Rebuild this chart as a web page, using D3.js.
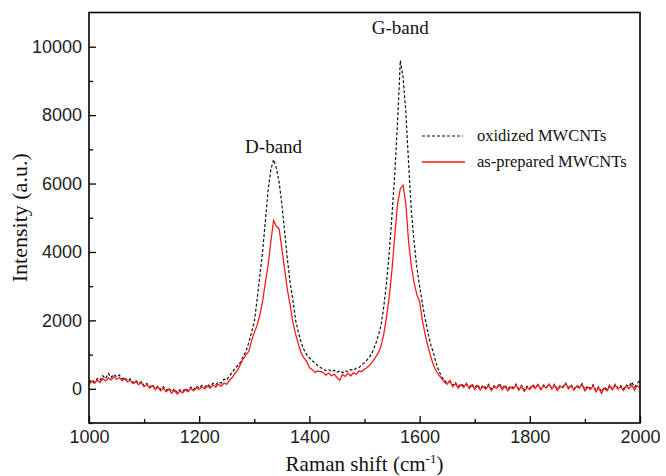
<!DOCTYPE html>
<html lang="en">
<head>
    <meta charset="UTF-8">
    <title>Raman spectra of MWCNTs</title>
    <script src="https://d3js.org/d3.v7.min.js"></script>
    <style>
        body { margin: 0; background: white; }
        .tick text { font-family: "Liberation Sans", Arial, sans-serif; font-size: 18px; fill: #222; }
        .serif { font-family: "Liberation Serif", "Times New Roman", serif; fill: #111; }
    </style>
</head>
<body>
    <div id="chart"></div>
    <script>
        // Raman shift sampled every 5 cm-1 from 1000 to 2000
        const shiftStart = 1000;
        const shiftStep = 5;

        // oxidized MWCNTs (black dashed)
        const oxidized = [
            180, 260, 200, 300, 240, 380, 300, 450, 330, 420,
            350, 400, 290, 330, 230, 290, 180, 240, 150, 210,
            90, 160, 50, 120, 10, 80, -20, 60, -50, 20,
            -90, 0, -110, -30, -80, 10, -50, 50, -20, 80,
            20, 100, 50, 130, 70, 160, 120, 200, 170, 280,
            260, 380, 480, 600, 680, 780, 950, 1100, 1350, 1650,
            1950, 2600, 3300, 4000, 4900, 5800, 6400, 6700, 6450, 6050,
            5400, 4600, 3800, 3100, 2600, 2000, 1650, 1350, 1150, 1000,
            900, 820, 760, 680, 620, 580, 530, 560, 500, 540,
            480, 520, 470, 530, 500, 560, 540, 600, 620, 700,
            760, 850, 950, 1100, 1300, 1550, 1850, 2400, 3100, 4000,
            5100, 6300, 7800, 9600, 9100, 8100, 6600, 5200, 4300, 3550,
            3000, 2500, 2050, 1650, 1300, 1050, 750, 520, 350, 250,
            170, 210, 100, 180, 60, 150, 80, 130, 40, 140,
            20, 120, 0, 100, 30, 130, -10, 90, 40, 150,
            10, 110, -20, 80, 30, 140, 0, 100, -40, 70,
            10, 120, 40, 110, 0, 110, 50, 120, 20, 130,
            -10, 90, 60, 170, 30, 120, -10, 100, 50, 150,
            -20, 80, 10, 120, -50, 60, -90, 50, -20, 110,
            0, 130, 20, 90, -10, 110, 60, 200, 50, 150,
            260
        ];

        // as-prepared MWCNTs (red solid)
        const asPrepared = [
            120, 220, 160, 250, 180, 300, 230, 320, 260, 350,
            280, 330, 240, 290, 200, 250, 150, 210, 120, 180,
            60, 130, 20, 90, -30, 50, -60, 20, -90, -10,
            -130, -50, -150, -70, -120, -30, -90, 10, -60, 30,
            -20, 60, 0, 80, 20, 110, 50, 130, 80, 170,
            130, 250, 330, 450, 560, 720, 880, 1000, 1090, 1400,
            1650, 1850, 2150, 2550, 3100, 3600, 4300, 4920, 4750, 4680,
            4100, 3500, 2900, 2450, 1950, 1600, 1300, 1050, 900, 800,
            620, 560, 480, 520, 500, 480, 400, 460, 380, 430,
            330, 250, 420, 360, 450, 380, 470, 430, 520, 500,
            580, 620, 700, 800, 920, 1050, 1250, 1600, 2100, 2700,
            3500, 4500, 5400, 5850, 5950, 5400, 4300, 3600, 3100, 2750,
            2550, 2000, 1600, 1250, 950, 700, 520, 400, 300, 200,
            130, 250, 60, 150, 20, 120, 40, 160, 0, 110,
            -20, 90, -40, 70, -10, 100, -50, 60, 10, 120,
            -30, 80, -60, 50, 0, 110, -40, 70, -80, 40,
            -20, 90, 10, 130, -30, 80, 20, 140, -10, 100,
            -50, 60, 30, 150, 0, 90, -40, 70, 20, 120,
            -60, 50, -20, 90, -90, 30, -140, 20, -60, 80,
            -30, 100, -10, 60, -50, 80, 0, 110, -40, 90,
            30
        ];

        const xTicks = [1000, 1200, 1400, 1600, 1800, 2000];
        const xMinorTicks = [1100, 1300, 1500, 1700, 1900];
        const yTicks = [0, 2000, 4000, 6000, 8000, 10000];
        const yMinorTicks = [-1000, 1000, 3000, 5000, 7000, 9000];

        const width = 666;
        const height = 476;
        const margin = { top: 12.5, right: 26, bottom: 53, left: 89 };

        const svg = d3.select("#chart").append("svg")
            .attr("width", width)
            .attr("height", height);

        const x = d3.scaleLinear()
            .domain([1000, 2000])
            .range([margin.left, width - margin.right]);

        const y = d3.scaleLinear()
            .domain([-1000, 11000])
            .range([height - margin.bottom, margin.top]);

        const line = d3.line()
            .x((d, i) => x(shiftStart + i * shiftStep))
            .y(d => y(d));

        // Clip so the spectra stay inside the frame
        svg.append("clipPath").attr("id", "plot-area")
            .append("rect")
            .attr("x", margin.left).attr("y", margin.top)
            .attr("width", x.range()[1] - margin.left)
            .attr("height", y.range()[0] - margin.top);

        const plot = svg.append("g").attr("clip-path", "url(#plot-area)");

        plot.append("path")
            .datum(oxidized)
            .attr("fill", "none")
            .attr("stroke", "#111")
            .attr("stroke-width", 1.2)
            .attr("stroke-dasharray", "3,2")
            .attr("d", line);

        plot.append("path")
            .datum(asPrepared)
            .attr("fill", "none")
            .attr("stroke", "#ff1a1a")
            .attr("stroke-width", 1.3)
            .attr("d", line);

        // Axes with inward ticks
        svg.append("g")
            .attr("transform", `translate(0,${y.range()[0]})`)
            .call(d3.axisBottom(x).tickValues(xTicks).tickFormat(d3.format("d"))
                .tickSizeInner(-7).tickSizeOuter(0).tickPadding(7));

        svg.append("g")
            .attr("transform", `translate(0,${y.range()[0]})`)
            .call(d3.axisBottom(x).tickValues(xMinorTicks).tickSizeInner(-4).tickSizeOuter(0).tickFormat(""));

        svg.append("g")
            .attr("transform", `translate(${margin.left},0)`)
            .call(d3.axisLeft(y).tickValues(yTicks).tickFormat(d3.format("d"))
                .tickSizeInner(-7).tickSizeOuter(0).tickPadding(7));

        svg.append("g")
            .attr("transform", `translate(${margin.left},0)`)
            .call(d3.axisLeft(y).tickValues(yMinorTicks).tickSizeInner(-4).tickSizeOuter(0).tickFormat(""));

        svg.selectAll(".tick line").attr("stroke", "#000").attr("stroke-width", 1.3);
        svg.selectAll(".domain").remove();

        // frame
        svg.append("rect")
            .attr("x", margin.left).attr("y", margin.top)
            .attr("width", x.range()[1] - margin.left)
            .attr("height", y.range()[0] - margin.top)
            .attr("fill", "none")
            .attr("stroke", "#000")
            .attr("stroke-width", 1.6);

        // axis titles
        const xTitle = svg.append("text")
            .attr("class", "serif")
            .attr("x", (margin.left + x.range()[1]) / 2)
            .attr("y", 471)
            .attr("text-anchor", "middle")
            .style("font-size", "21px");
        xTitle.append("tspan").text("Raman shift (cm");
        xTitle.append("tspan").attr("dy", -8).style("font-size", "13px").text("-1");
        xTitle.append("tspan").attr("dy", 8).text(")");

        svg.append("text")
            .attr("class", "serif")
            .attr("transform", `translate(27,${(margin.top + y.range()[0]) / 2}) rotate(-90)`)
            .attr("text-anchor", "middle")
            .style("font-size", "22px")
            .text("Intensity (a.u.)");

        // band labels
        svg.append("text")
            .attr("class", "serif")
            .attr("x", x(1335)).attr("y", y(6900))
            .attr("text-anchor", "middle")
            .style("font-size", "19px")
            .text("D-band");

        svg.append("text")
            .attr("class", "serif")
            .attr("x", x(1565)).attr("y", y(10380))
            .attr("text-anchor", "middle")
            .style("font-size", "19px")
            .text("G-band");

        // legend
        const legend = svg.append("g").attr("transform", "translate(422,136)");
        legend.append("line")
            .attr("x1", 0).attr("x2", 41).attr("y1", 0).attr("y2", 0)
            .attr("stroke", "#111").attr("stroke-width", 1.2).attr("stroke-dasharray", "3,2");
        legend.append("text")
            .attr("class", "serif")
            .attr("x", 55).attr("y", 5)
            .style("font-size", "16.5px")
            .text("oxidized MWCNTs");
        legend.append("line")
            .attr("x1", 0).attr("x2", 43).attr("y1", 26).attr("y2", 26)
            .attr("stroke", "#ff1a1a").attr("stroke-width", 1.3);
        legend.append("text")
            .attr("class", "serif")
            .attr("x", 55).attr("y", 31)
            .style("font-size", "16.5px")
            .text("as-prepared MWCNTs");
    </script>
</body>
</html>
